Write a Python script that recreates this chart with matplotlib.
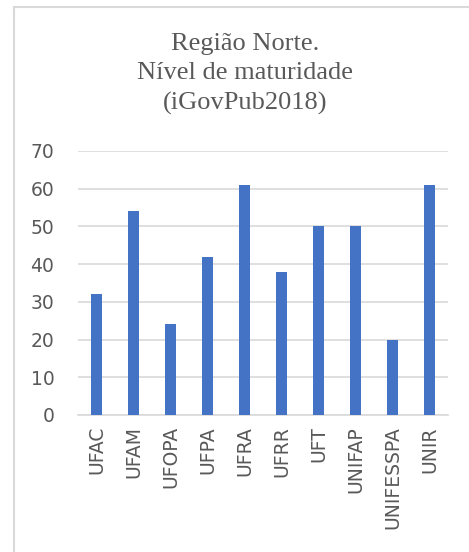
import matplotlib.pyplot as plt
from matplotlib.lines import Line2D

universidades = ['UFAC', 'UFAM', 'UFOPA', 'UFPA', 'UFRA', 'UFRR', 'UFT', 'UNIFAP', 'UNIFESSPA', 'UNIR']
maturidade = [32, 54, 24, 42, 61, 38, 50, 50, 20, 61]
yticks = [0, 10, 20, 30, 40, 50, 60, 70]

W, H = 469, 552
fig = plt.figure(figsize=(W / 100, H / 100), dpi=100)
fig.patch.set_facecolor('white')

# plot area in pixels: x 78..448, y 151..415
ax = fig.add_axes([78 / W, 1 - 415 / H, (448 - 78) / W, (415 - 151) / H])

ax.bar(range(len(universidades)), maturidade, width=0.32, color='#4472C4', zorder=3)
ax.set_xlim(-0.5, len(universidades) - 0.5)
ax.set_ylim(0, 70)
ax.set_yticks(yticks)
ax.set_xticks(range(len(universidades)))
ax.set_xticklabels(universidades, rotation=90)
ax.yaxis.grid(True, color='#d9d9d9', linewidth=1.2, zorder=0)
ax.tick_params(length=0, labelsize=13.5, labelcolor='#595959')
ax.tick_params(axis='y', pad=17)
ax.tick_params(axis='x', pad=8)
for s in ['top', 'right', 'left']:
    ax.spines[s].set_visible(False)
ax.spines['bottom'].set_color('#d9d9d9')
ax.spines['bottom'].set_linewidth(1.2)

fig.text(245 / W, 1 - 74 / H, 'Região Norte.\nNível de maturidade\n(iGovPub2018)',
         ha='center', va='center', family='Liberation Serif', fontsize=19,
         color='#595959', linespacing=1.45)

# chart frame (continues past the image edge)
fig.add_artist(Line2D([13.5 / W, 13.5 / W], [0, 1 - 7 / H], color='#d9d9d9', linewidth=1.5))
fig.add_artist(Line2D([13.5 / W, 1], [1 - 7 / H, 1 - 7 / H], color='#d9d9d9', linewidth=1.5))

fig.savefig('out.png', dpi=100)
